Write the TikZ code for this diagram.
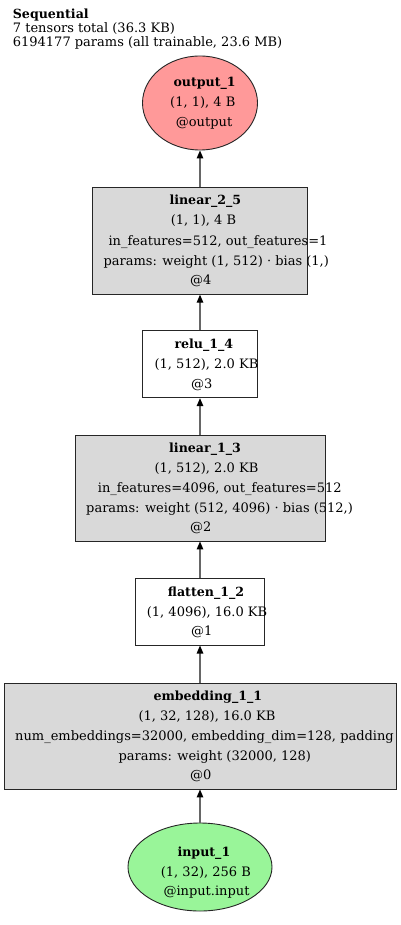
\documentclass[tikz,border=0pt]{standalone}
\usepackage{fontspec}
\setmainfont{DejaVu Serif}
\usetikzlibrary{shapes.geometric,arrows.meta}
\definecolor{outfill}{HTML}{FF9999}
\definecolor{infill}{HTML}{99F599}
\definecolor{boxgray}{HTML}{D9D9D9}
\definecolor{edgegray}{HTML}{666666}
\tikzset{
  lbl/.style={anchor=base west, inner sep=0pt, font=\fontsize{13}{15}\selectfont},
  ttl/.style={lbl, font=\fontsize{12.6}{15}\selectfont\bfseries},
  opbox/.style={draw=black!85, line width=0.9pt, rectangle, inner sep=0pt},
  grayop/.style={opbox, fill=boxgray},
  whiteop/.style={opbox, fill=white},
  ioell/.style={draw=black!85, line width=0.9pt, ellipse, inner sep=0pt},
  edge/.style={draw=edgegray, line width=1.3pt, -{Triangle[length=8pt,width=6.5pt,color=black]}}
}
\begin{document}
\begin{tikzpicture}[x=1pt,y=-1pt]
\useasboundingbox[fill=white] (0,0) rectangle (400,925);
% header
\node[ttl] (hdr1) at (12.7,18.5) {Sequential};
\node[lbl] (hdr2) at (12.7,32.5) {7 tensors total (36.3 KB)};
\node[lbl] (hdr3) at (12.7,46.5) {6194177 params (all trainable, 23.6 MB)};
% shapes
\node[ioell, fill=outfill, minimum width=115pt, minimum height=94pt] (out) at (200,103) {};
\node[grayop, minimum width=215pt, minimum height=107pt] (lin2) at (200,240.7) {};
\node[whiteop, minimum width=114.6pt, minimum height=67pt] (relu) at (200,364.2) {};
\node[grayop, minimum width=250pt, minimum height=106pt] (lin1) at (200,488) {};
\node[whiteop, minimum width=128.6pt, minimum height=66.7pt] (flat) at (200,611.7) {};
\node[grayop, minimum width=392pt, minimum height=106pt] (emb) at (200,736) {};
\node[ioell, fill=infill, minimum width=144pt, minimum height=88pt] (inp) at (200,867) {};
% edges
\draw[edge] (lin2.north) -- (out.south);
\draw[edge] (relu.north) -- (lin2.south);
\draw[edge] (lin1.north) -- (relu.south);
\draw[edge] (flat.north) -- (lin1.south);
\draw[edge] (emb.north) -- (flat.south);
\draw[edge] (inp.north) -- (emb.south);
% output text
\node[ttl] (o1) at (173.3,87) {output\_1};
\node[lbl] (o2) at (170,107) {(1, 1), 4 B};
\node[lbl] (o3) at (175.7,127) {@output};
% linear_2_5
\node[ttl] (a1) at (169.3,205) {linear\_2\_5};
\node[lbl] (a2) at (170.7,225) {(1, 1), 4 B};
\node[lbl] (a3) at (108.3,245) {in\_features=512, out\_features=1};
\node[lbl] (a4) at (103.3,265) {params: weight (1, 512) · bias (1,)};
\node[lbl] (a5) at (190,284) {@4};
% relu
\node[ttl] (b1) at (174.3,348.5) {relu\_1\_4};
\node[lbl] (b2) at (154.3,368.5) {(1, 512), 2.0 KB};
\node[lbl] (b3) at (191,388) {@3};
% linear_1_3
\node[ttl] (c1) at (169,452.3) {linear\_1\_3};
\node[lbl] (c2) at (154.3,472.5) {(1, 512), 2.0 KB};
\node[lbl] (c3) at (97.7,492) {in\_features=4096, out\_features=512};
\node[lbl] (c4) at (86,512) {params: weight (512, 4096) · bias (512,)};
\node[lbl] (c5) at (190,531.7) {@2};
% flatten
\node[ttl] (d1) at (167.7,596) {flatten\_1\_2};
\node[lbl] (d2) at (146.7,616) {(1, 4096), 16.0 KB};
\node[lbl] (d3) at (191,635) {@1};
% embedding
\node[ttl] (e1) at (153.3,700) {embedding\_1\_1};
\node[lbl] (e2) at (138.3,720) {(1, 32, 128), 16.0 KB};
\node[lbl] (e3) at (15,740) {num\_embeddings=32000, embedding\_dim=128, padding};
\node[lbl] (e4) at (118.3,760) {params: weight (32000, 128)};
\node[lbl] (e5) at (190,779) {@0};
% input
\node[ttl] (i1) at (177.3,856) {input\_1};
\node[lbl] (i2) at (160.7,876) {(1, 32), 256 B};
\node[lbl] (i3) at (163.3,895.5) {@input.input};
\end{tikzpicture}
\end{document}
